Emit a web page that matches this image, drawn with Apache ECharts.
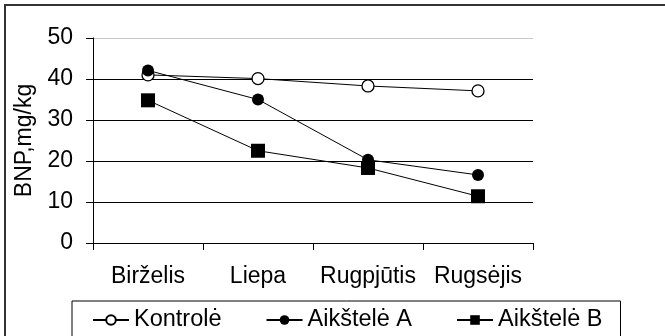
<!DOCTYPE html>
<html>
<head>
<meta charset="utf-8">
<script src="https://cdn.jsdelivr.net/npm/echarts@6/dist/echarts.min.js"></script>
<style>
html,body{margin:0;padding:0;background:#fff;}
#c{width:665px;height:336px;}
</style>
</head>
<body>
<div id="c"></div>
<script>
const categories = ['Birželis', 'Liepa', 'Rugpjūtis', 'Rugsėjis'];
const kontrole = [41, 40.1, 38.3, 37.1];
const aikstele_A = [42.1, 35, 20.3, 16.6];
const aikstele_B = [34.8, 22.5, 18.3, 11.4];
const yTicks = { min: 0, max: 50, interval: 10 };
const seriesNames = ['Kontrolė', 'Aikštelė A', 'Aikštelė B'];

const FONT = "'Liberation Sans', Arial, sans-serif";
const chart = echarts.init(document.getElementById('c'), null, { renderer: 'canvas' });

chart.setOption({
  animation: false,
  backgroundColor: '#fff',
  textStyle: { fontFamily: FONT, color: '#000' },
  graphic: [{
    type: 'rect',
    shape: { x: 5, y: 5, width: 700, height: 400 },
    style: { fill: 'none', stroke: '#333', lineWidth: 2 },
    silent: true
  }],
  grid: { left: 93, right: 132, top: 38, bottom: 93, outerBoundsMode: 'none', containLabel: false },
  legend: {
    data: seriesNames,
    left: 72, top: 301,
    padding: [7, 18, 12, 20],
    borderColor: '#000', borderWidth: 1,
    itemWidth: 36, itemHeight: 12, itemGap: 44,
    textStyle: { fontFamily: FONT, fontSize: 23.5, color: '#000' }
  },
  xAxis: {
    type: 'category',
    data: categories,
    boundaryGap: true,
    axisLine: { lineStyle: { color: '#000', width: 1 } },
    axisTick: { show: true, length: 7, lineStyle: { color: '#000' } },
    axisLabel: { fontFamily: FONT, fontSize: 23, color: '#000', margin: 22, interval: 0 },
    splitLine: { show: false }
  },
  yAxis: {
    type: 'value',
    min: yTicks.min, max: yTicks.max, interval: yTicks.interval,
    name: 'BNP,mg/kg',
    nameLocation: 'middle',
    nameRotate: 90,
    nameGap: 55,
    nameTextStyle: { fontFamily: FONT, fontSize: 23, color: '#000' },
    axisLine: { show: true, lineStyle: { color: '#000', width: 1 } },
    axisTick: { show: true, length: 7, lineStyle: { color: '#000' } },
    axisLabel: { fontFamily: FONT, fontSize: 23, color: '#000', margin: 20 },
    splitLine: { show: true, lineStyle: { color: ['#000', '#000', '#000', '#000', '#000', '#c8c8c8'], width: 1 } }
  },
  series: [
    {
      name: seriesNames[0], type: 'line', data: kontrole,
      symbol: 'circle', symbolSize: 12,
      lineStyle: { color: '#000', width: 1 },
      itemStyle: { color: '#fff', borderColor: '#000', borderWidth: 1.3 }
    },
    {
      name: seriesNames[1], type: 'line', data: aikstele_A,
      symbol: 'circle', symbolSize: 12,
      lineStyle: { color: '#000', width: 1 },
      itemStyle: { color: '#000', borderColor: '#000', borderWidth: 0 }
    },
    {
      name: seriesNames[2], type: 'line', data: aikstele_B,
      symbol: 'rect', symbolSize: 14,
      lineStyle: { color: '#000', width: 1 },
      itemStyle: { color: '#000', borderColor: '#000', borderWidth: 0 }
    }
  ]
});
</script>
</body>
</html>
